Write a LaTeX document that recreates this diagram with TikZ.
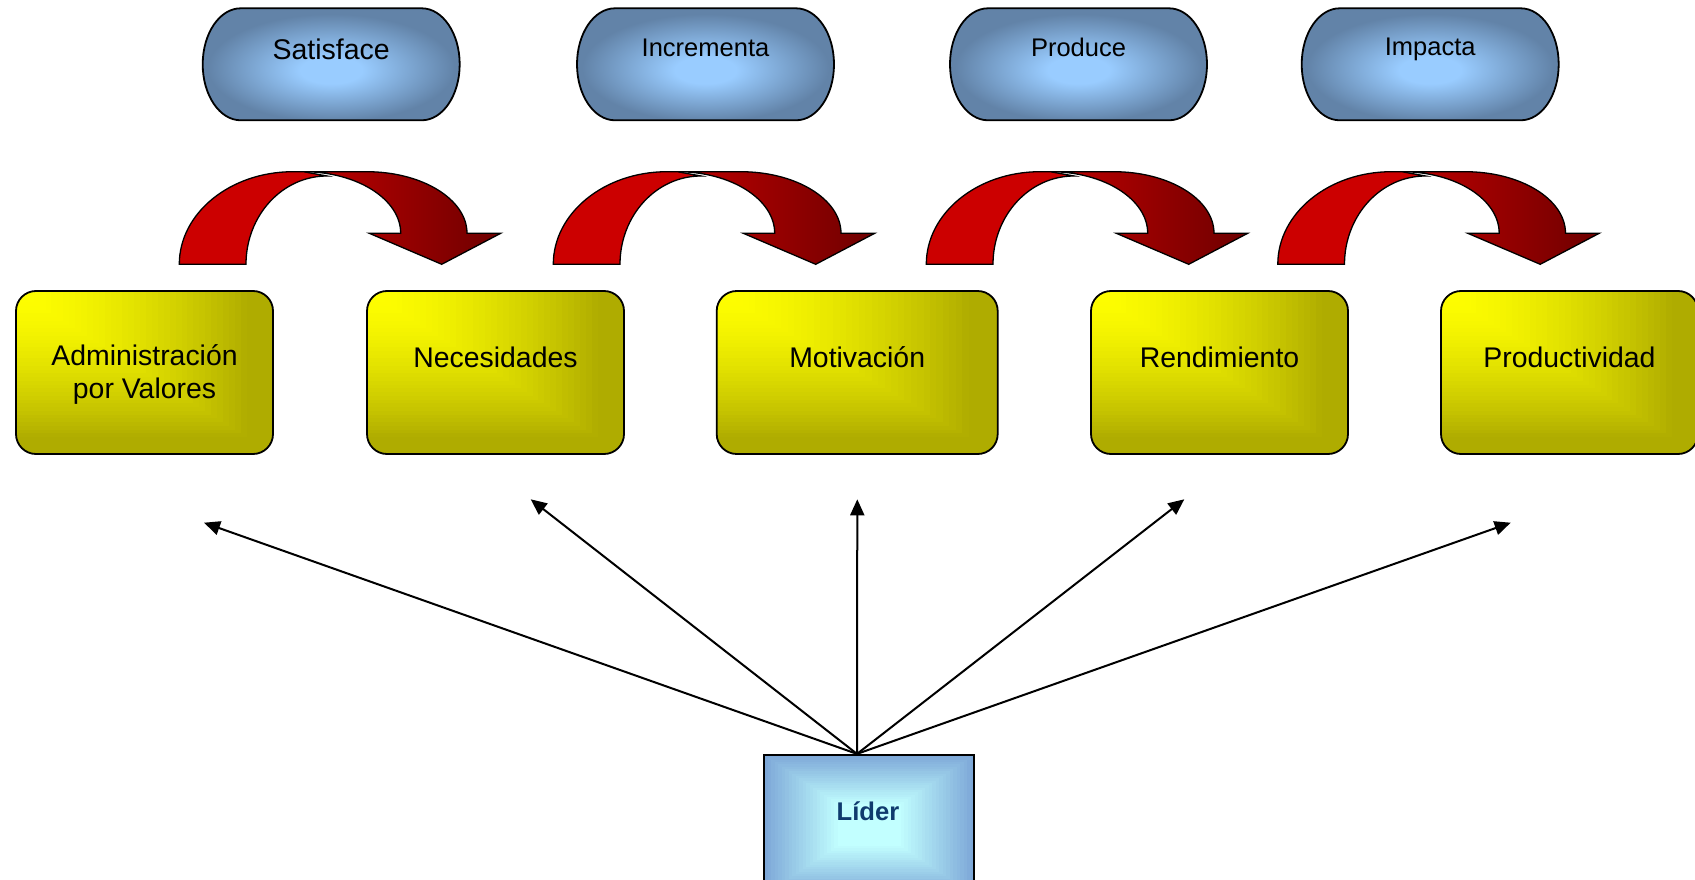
\documentclass[tikz,border=0pt]{standalone}
\usepackage{fontspec}
\setmainfont{Liberation Sans}
\usetikzlibrary{arrows.meta,calc}

\definecolor{boxhi}{HTML}{FFFF00}
\definecolor{boxlo}{HTML}{AFAC00}
\definecolor{pillhi}{HTML}{99CCFF}
\definecolor{pilllo}{HTML}{6283A8}
\definecolor{liderhi}{HTML}{C2FFFF}
\definecolor{liderlo}{HTML}{7EA8D8}
\definecolor{bandred}{HTML}{CC0000}
\definecolor{headred}{HTML}{BE0000}
\definecolor{headdark}{HTML}{6E0000}
\definecolor{lidertext}{HTML}{0F3B6E}

\pgfdeclareradialshading{pillshade}{\pgfpoint{0bp}{-3bp}}{color(0bp)=(pillhi); color(6bp)=(pillhi); color(24bp)=(pilllo); color(50bp)=(pilllo)}

\tikzset{
  pill/.style={shading=pillshade, draw=black, line width=1.8pt},
  pilltext/.style={anchor=base, inner sep=0pt},
  riseband/.style={fill=bandred, draw=black, line width=1.3pt},
  headband/.style={left color=headred, right color=headdark, draw=black, line width=1.3pt},
  ybox/.style={draw=black, line width=1.8pt, rounded corners=20pt,
    minimum width=257pt, minimum height=163pt, inner sep=0pt,
    path picture={
      \fill[boxlo, sharp corners] (path picture bounding box.north west)
        rectangle (path picture bounding box.south east);
      \foreach \s in {40,...,1}{
        \pgfmathtruncatemacro\ymix{100*(1-(\s/40)^1.6)}
        \fill[boxhi!\ymix!boxlo, sharp corners]
          (path picture bounding box.north west) rectangle
          ($(path picture bounding box.north west)!{0.92*\s/40}!(path picture bounding box.south east)$);
      }
    }},
  boxtext/.style={font=\fontsize{28.4}{32.5}\selectfont, inner sep=0pt},
  lbox/.style={draw=black, line width=2.2pt, minimum width=210pt,
    minimum height=140pt, inner sep=0pt,
    path picture={
      \foreach \s in {30,...,1}{
        \pgfmathtruncatemacro\lmix{max(0,min(100,(\s/30-0.3)/0.7*100))}
        \fill[liderlo!\lmix!liderhi]
          ($(path picture bounding box.center)!{\s/30}!(path picture bounding box.north west)$)
          rectangle
          ($(path picture bounding box.center)!{\s/30}!(path picture bounding box.south east)$);
      }
    }},
  conn/.style={line width=2pt, -{Triangle[length=16pt,width=14pt]}}
}

\begin{document}
\begin{tikzpicture}[x=1pt, y=-1pt]
\useasboundingbox (0,0) rectangle (1695,880);

% verb pills along the top
\foreach \L/\txt/\fs/\bl [count=\i] in
  {202.7/Satisface/28.5/60, 577/Incrementa/25.5/56.7,
   950/Produce/25.5/56.5, 1301.7/Impacta/25.5/55.5}{
  \shadedraw[pill] (\L+38,8.3) -- (\L+219,8.3)
    arc[start angle=90, end angle=-90, x radius=38pt, y radius=56pt]
    -- (\L+38,120.3)
    arc[start angle=270, end angle=90, x radius=38pt, y radius=56pt]
    -- cycle;
  \node[pilltext, font=\fontsize{\fs}{30}\selectfont] (pill\i) at (\L+128.5,\bl) {\txt};
}

% curved red arrows between the boxes
\foreach \o in {179.3, 553.3, 926.3, 1277.8}{
  \shadedraw[headband] (\o+124,171.7) -- (\o+187.4,171.7)
    arc[start angle=90, end angle=0, x radius=100.3pt, y radius=61.6pt]
    -- (\o+321.4,233.3) -- (\o+262.4,264.3) -- (\o+190,233.3) -- (\o+221.4,233.3)
    arc[start angle=0, end angle=90, x radius=97.4pt, y radius=61.6pt]
    -- cycle;
  \filldraw[riseband] (\o,264.3)
    arc[start angle=180, end angle=90, x radius=113.7pt, y radius=92.6pt]
    -- (\o+124,171.7) -- (\o+147.7,176)
    arc[start angle=90, end angle=180, x radius=81pt, y radius=88.3pt]
    -- cycle;
}

% concept boxes
\node[ybox] (b1) at (144.5,372.5) {};
\node[ybox] (b2) at (495.5,372.5) {};
\node[ybox, minimum width=281pt] (b3) at (857.2,372.5) {};
\node[ybox] (b4) at (1219.5,372.5) {};
\node[ybox] (b5) at (1569.5,372.5) {};

\node[boxtext, align=center] (b1t) at ($(b1.center)+(0,2)$) {Administración\\por Valores};
\node[boxtext, anchor=base] (b2t) at ($(b2.north)+(0,77)$) {Necesidades};
\node[boxtext, anchor=base] (b3t) at ($(b3.north)+(0,77)$) {Motivación};
\node[boxtext, anchor=base] (b4t) at ($(b4.north)+(0,77)$) {Rendimiento};
\node[boxtext, anchor=base] (b5t) at ($(b5.north)+(0,77)$) {Productividad};

% leader box
\node[lbox] (lider) at (869,825) {};
\node[font=\bfseries\fontsize{25.6}{30}\selectfont, text=lidertext, inner sep=0pt]
  (lidert) at ($(lider.north)+(-1,57)$) {Líder};

% connectors from the leader
\coordinate (src) at ($(lider.north)+(-12,0)$);
\coordinate (e1) at (204,522.7);
\coordinate (e2) at (530.7,499.3);
\coordinate (e3) at (857.3,499.3);
\coordinate (e4) at (1184.3,499.3);
\coordinate (e5) at (1510.7,522.7);
\foreach \e in {e1,e2,e3,e4,e5}{
  \draw[conn] (src) -- (\e);
}
\end{tikzpicture}
\end{document}
